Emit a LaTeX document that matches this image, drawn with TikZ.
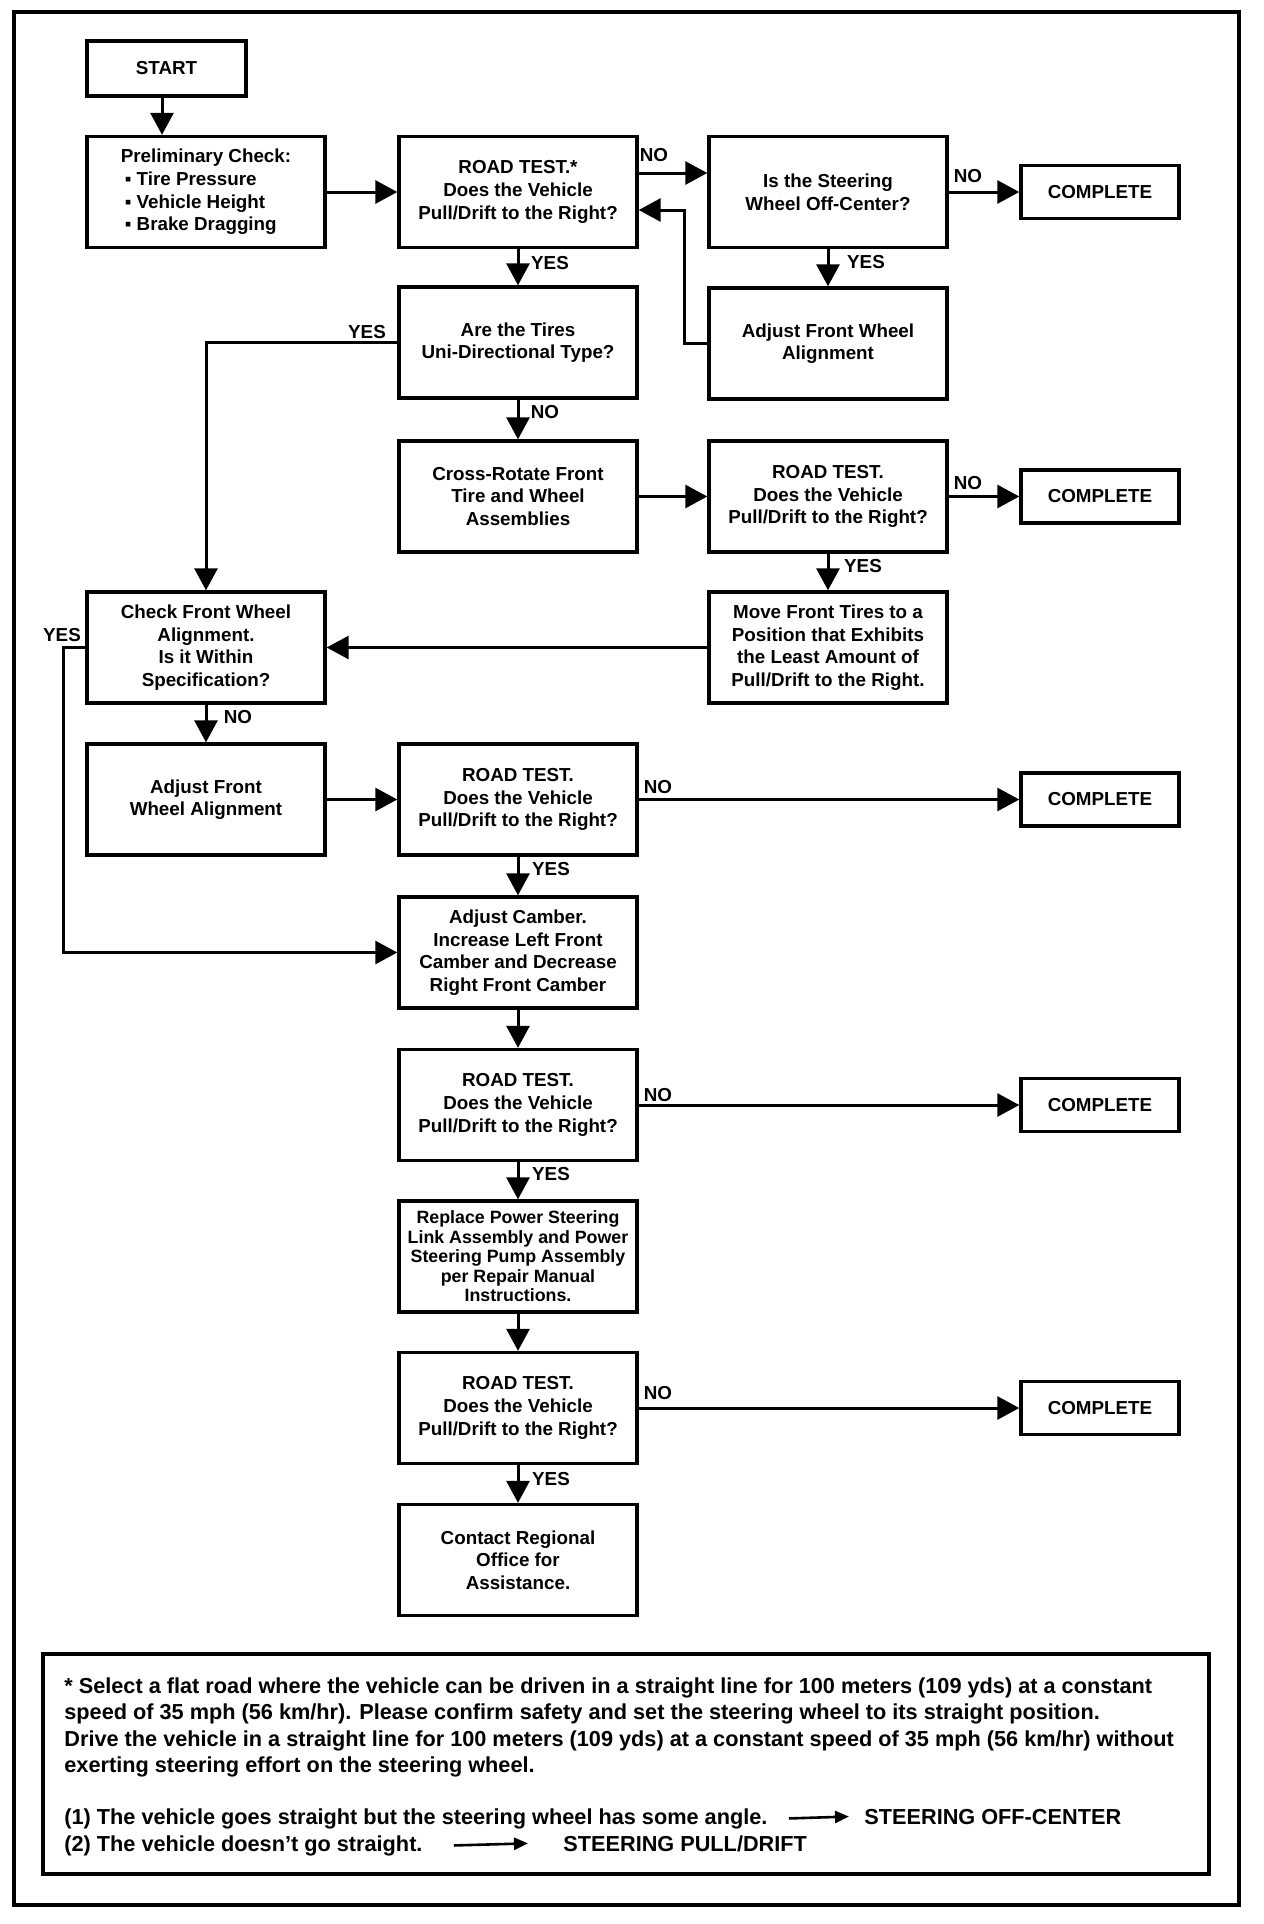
\documentclass[tikz,border=0pt]{standalone}
\usepackage{fontspec}
\setmainfont{Liberation Sans}
\usepackage{tikz}
\usetikzlibrary{arrows.meta}
\newcommand{\boxfont}{\bfseries\fontsize{9.4}{11.3}\selectfont}
\newcommand{\tightfont}{\bfseries\fontsize{8.9}{9.75}\selectfont}
\newcommand{\notefont}{\bfseries\fontsize{10.85}{13.3}\selectfont}
\tikzset{
  frame/.style={line width=2pt},
  box/.style={draw,line width=1.7pt,minimum width=119pt,minimum height=55.5pt,inner sep=1pt,align=center,font=\boxfont},
  done/.style={box,minimum width=79pt,minimum height=26.5pt},
  flow/.style={line width=1.5pt,-{Triangle[length=11pt,width=11.5pt]}},
  yn/.style={font=\boxfont,inner sep=0pt},
  note/.style={font=\notefont,inner sep=0pt,align=left},
  notearr/.style={line width=1.3pt,-{Triangle[length=7pt,width=6pt]}},
}

\begin{document}
\begin{tikzpicture}[x=0.5pt,y=-0.5pt]
  \useasboundingbox (0,0) rectangle (1264,1924);
  \draw[frame] (14,12) rectangle (1239,1905);

  % column A
  \node[box,minimum width=79.5pt,minimum height=27.5pt] (start) at (166.5,68.5) {START};
  \node[box,align=left] (prelim) at (206,192) {Preliminary Check:\\
    \hspace{2pt}▪ Tire Pressure\\ \hspace{2pt}▪ Vehicle Height\\ \hspace{2pt}▪ Brake Dragging};
  \node[box] (check) at (206,647.5) {Check Front Wheel\\ Alignment.\\ Is it Within\\ Specification?};
  \node[box] (adj2) at (206,799.5) {Adjust Front\\ Wheel Alignment};

  % column B
  \node[box] (rt1) at (518,192) {ROAD TEST.*\\ Does the Vehicle\\ Pull/Drift to the Right?};
  \node[box] (tires) at (518,342.5) {Are the Tires\\ Uni-Directional Type?};
  \node[box] (cross) at (518,496.5) {Cross-Rotate Front\\ Tire and Wheel\\ Assemblies};
  \node[box] (rt3) at (518,799.5) {ROAD TEST.\\ Does the Vehicle\\ Pull/Drift to the Right?};
  \node[box] (camber) at (518,952.5) {Adjust Camber.\\ Increase Left Front\\ Camber and Decrease\\ Right Front Camber};
  \node[box] (rt4) at (518,1105) {ROAD TEST.\\ Does the Vehicle\\ Pull/Drift to the Right?};
  \node[box,font=\tightfont] (replace) at (518,1256.5) {Replace Power Steering\\ Link Assembly and Power\\
    Steering Pump Assembly\\ per Repair Manual\\ Instructions.};
  \node[box] (rt5) at (518,1408) {ROAD TEST.\\ Does the Vehicle\\ Pull/Drift to the Right?};
  \node[box] (contact) at (518,1560) {Contact Regional\\ Office for\\ Assistance.};

  % column C
  \node[box] (steer) at (828,192) {Is the Steering\\ Wheel Off-Center?};
  \node[box] (adj1) at (828,343.5) {Adjust Front Wheel\\ Alignment};
  \node[box] (rt2) at (828,496.5) {ROAD TEST.\\ Does the Vehicle\\ Pull/Drift to the Right?};
  \node[box] (move) at (828,647.5) {Move Front Tires to a\\ Position that Exhibits\\
    the Least Amount of\\ Pull/Drift to the Right.};

  % column D
  \node[done] (done1) at (1100,192) {COMPLETE};
  \node[done] (done2) at (1100,496.5) {COMPLETE};
  \node[done] (done3) at (1100,799.5) {COMPLETE};
  \node[done] (done4) at (1100,1105) {COMPLETE};
  \node[done] (done5) at (1100,1408) {COMPLETE};

  \coordinate (ret) at (684,210);
  \coordinate (yesx) at (63,0);

  \draw[flow] ([xshift=-2.25pt]start.south) -- ([xshift=-2.25pt]start.south |- prelim.north);
  \draw[flow] (prelim.east) -- (rt1.west);
  \draw[flow] ([yshift=9.5pt]rt1.east) -- ([yshift=9.5pt]steer.west);
  \draw[flow] (steer.east) -- (done1.west);
  \draw[flow] (adj1.west) -| (ret) -- ([yshift=-9pt]rt1.east);
  \draw[flow] (rt1.south) -- (tires.north);
  \draw[flow] (steer.south) -- (adj1.north);
  \draw[flow] (tires.west) -| (check.north);
  \draw[flow] (tires.south) -- (cross.north);
  \draw[flow] (cross.east) -- (rt2.west);
  \draw[flow] (rt2.east) -- (done2.west);
  \draw[flow] (rt2.south) -- (move.north);
  \draw[flow] (move.west) -- (check.east);
  \draw[flow] (check.south) -- (adj2.north);
  \draw[flow] (check.west) -- (check.west -| yesx) |- (camber.west);
  \draw[flow] (adj2.east) -- (rt3.west);
  \draw[flow] (rt3.east) -- (done3.west);
  \draw[flow] (rt3.south) -- (camber.north);
  \draw[flow] (camber.south) -- (rt4.north);
  \draw[flow] (rt4.east) -- (done4.west);
  \draw[flow] (rt4.south) -- (replace.north);
  \draw[flow] (replace.south) -- (rt5.north);
  \draw[flow] (rt5.east) -- (done5.west);
  \draw[flow] (rt5.south) -- (contact.north);

  % YES / NO
  \node[yn] (n1) at (654,155) {NO};
  \node[yn] (y1) at (550,263) {YES};
  \node[yn] (n2) at (968,176) {NO};
  \node[yn] (y2) at (866,262) {YES};
  \node[yn] (y3) at (367,332) {YES};
  \node[yn] (n3) at (545,412) {NO};
  \node[yn] (n4) at (968,483) {NO};
  \node[yn] (y4) at (863,566) {YES};
  \node[yn] (y5) at (62,635) {YES};
  \node[yn] (n5) at (238,717) {NO};
  \node[yn] (n6) at (658,787) {NO};
  \node[yn] (y6) at (551,869) {YES};
  \node[yn] (n7) at (658,1095) {NO};
  \node[yn] (y7) at (551,1174) {YES};
  \node[yn] (n8) at (658,1393) {NO};
  \node[yn] (y8) at (551,1479) {YES};

  % footnote
  \draw[frame] (43,1654) rectangle (1209,1874);
  \node[note,anchor=north west] (fn) at (64,1677) {* Select a flat road where the vehicle can be driven in a straight line for 100 meters (109 yds) at a constant\\
    speed of 35 mph (56 km/hr). Please confirm safety and set the steering wheel to its straight position.\\
    Drive the vehicle in a straight line for 100 meters (109 yds) at a constant speed of 35 mph (56 km/hr) without\\
    exerting steering effort on the steering wheel.};
  \node[note,anchor=base west] (c1) at (64,1824) {(1) The vehicle goes straight but the steering wheel has some angle.};
  \node[note,anchor=base west] (r1) at (864,1824) {STEERING OFF-CENTER};
  \node[note,anchor=base west] (c2) at (64,1851) {(2) The vehicle doesn’t go straight.};
  \node[note,anchor=base west] (r2) at (563,1851) {STEERING PULL/DRIFT};
  \draw[notearr] ([xshift=10.5pt]c1.east) -- ([xshift=-7.5pt]r1.west);
  \draw[notearr] ([xshift=15.5pt]c2.east) -- ([xshift=-17.5pt]r2.west);
\end{tikzpicture}
\end{document}
